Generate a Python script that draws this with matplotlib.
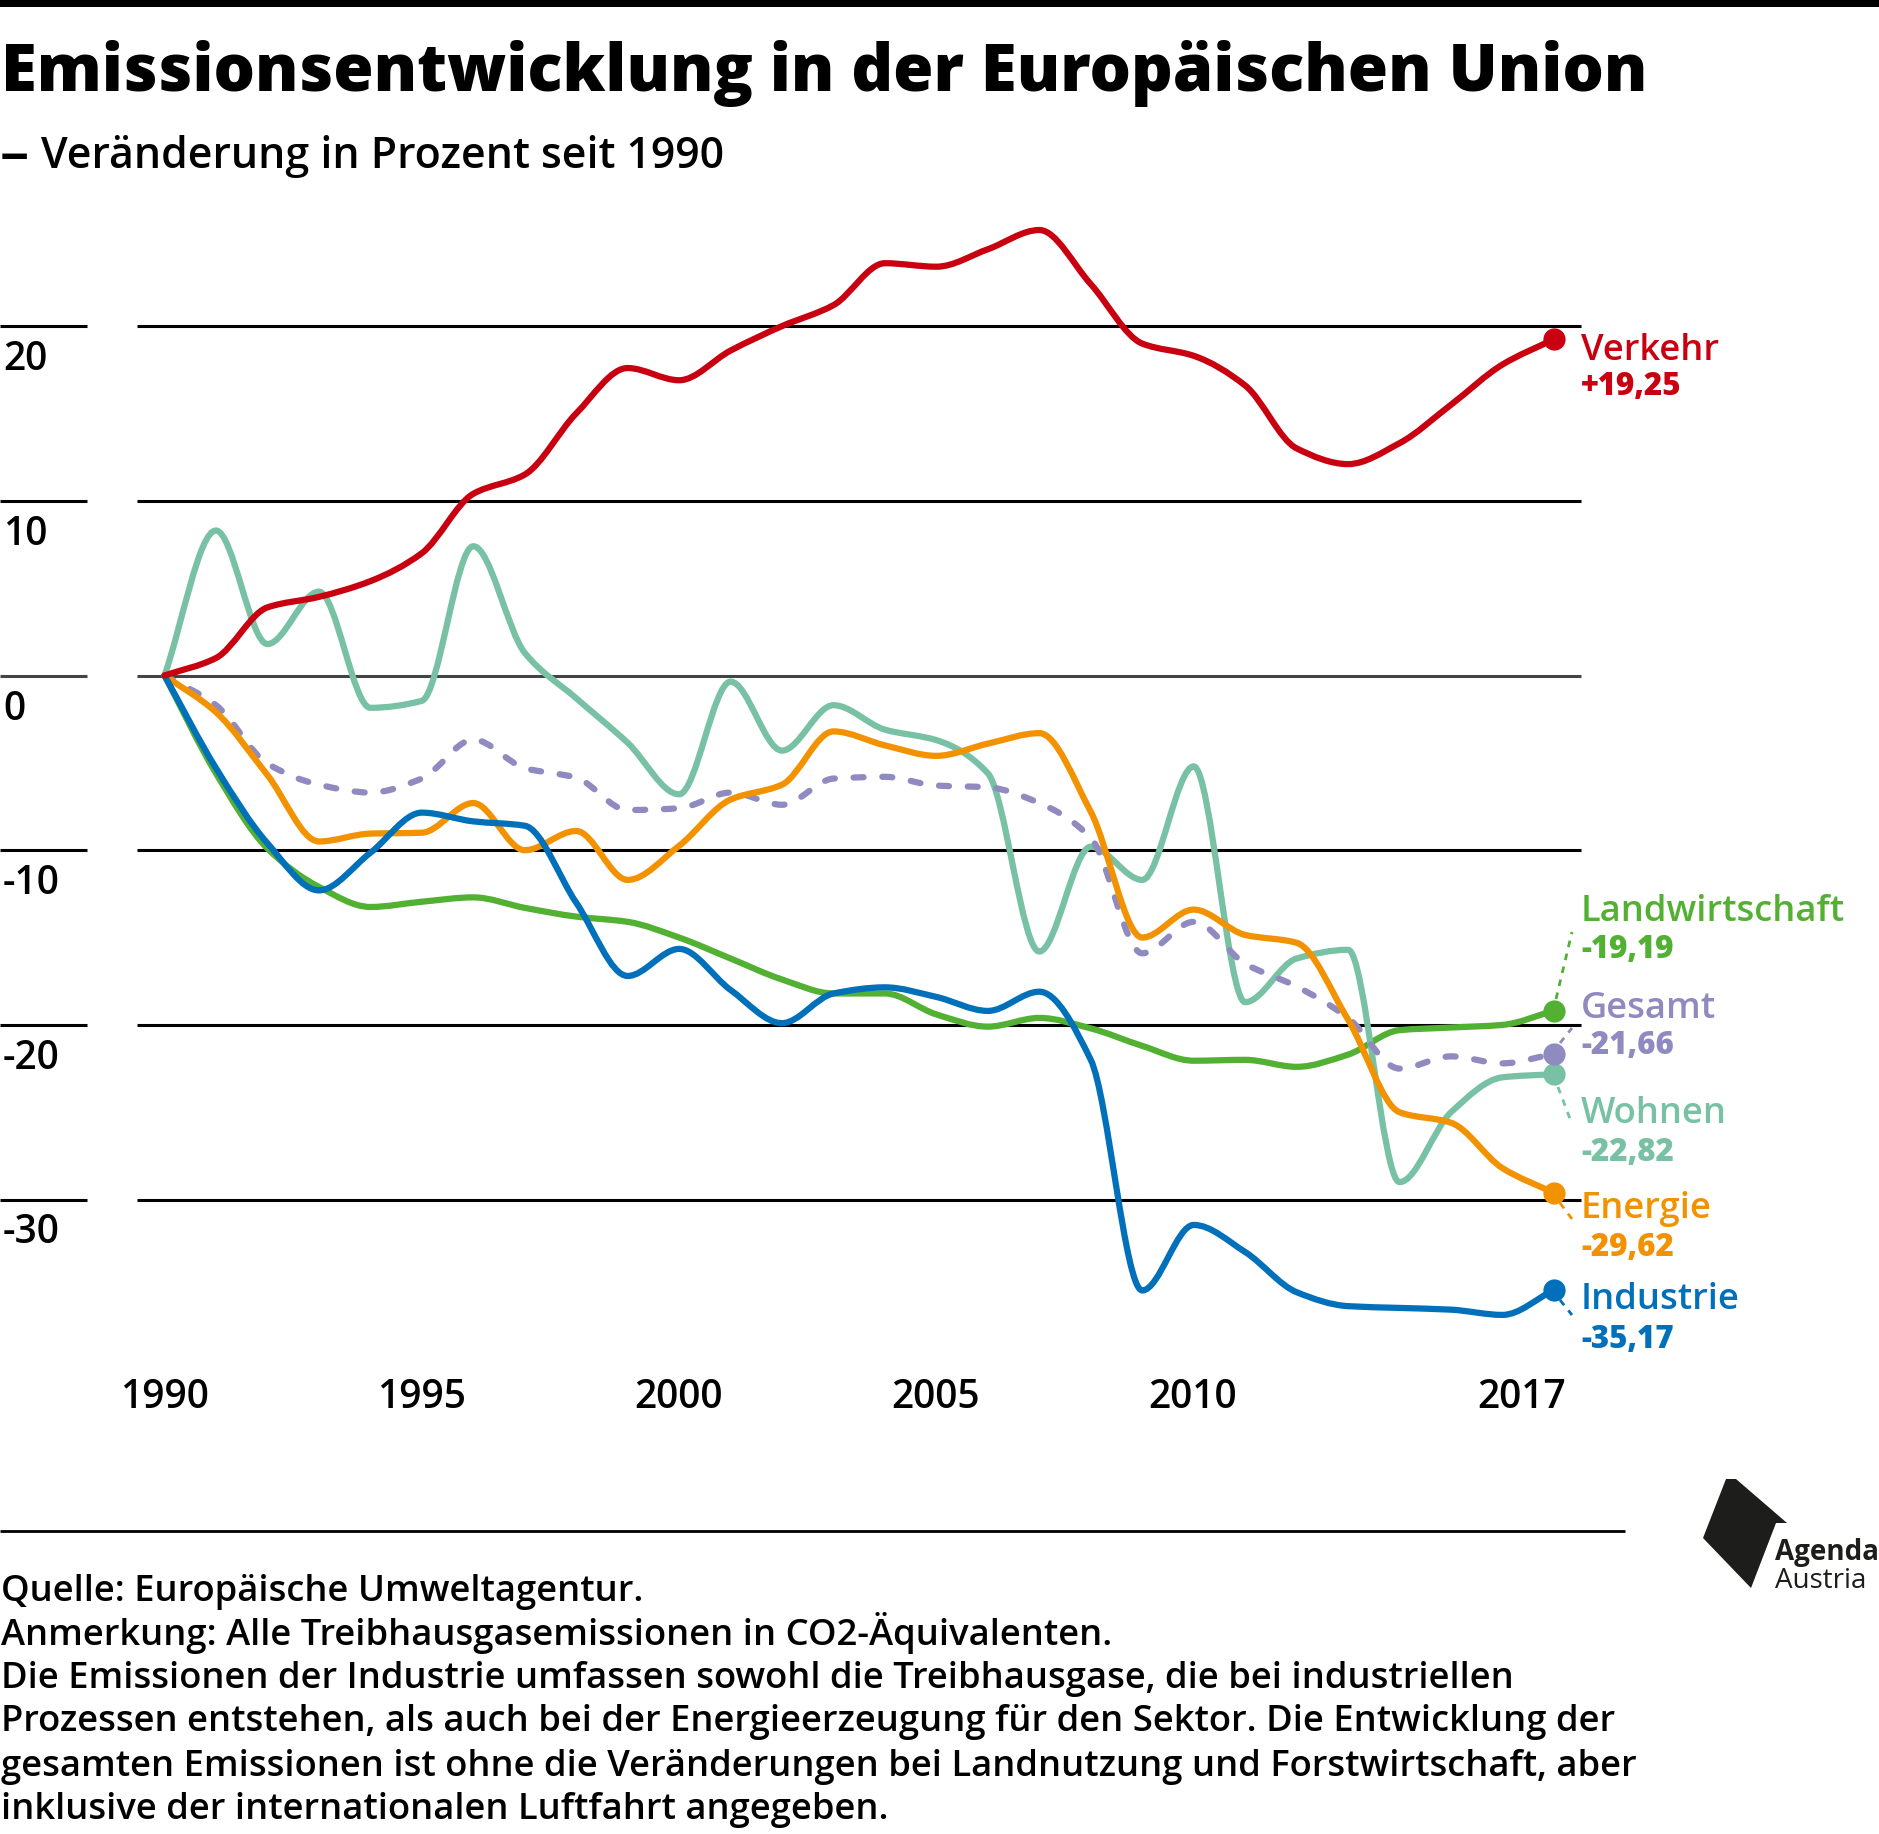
import numpy as np
import matplotlib
matplotlib.use("Agg")
import matplotlib.pyplot as plt
from matplotlib.path import Path
from matplotlib.patches import PathPatch, Polygon

plt.rcParams['font.family'] = ['Open Sans', 'DejaVu Sans']

years = list(range(1990, 2018))
verkehr = [0, 1.0, 3.9, 4.5, 5.4, 7.0, 10.4, 11.5, 15.0, 17.6, 16.9, 18.6, 20.0, 21.2,
           23.6, 23.4, 24.4, 25.5, 22.4, 19.0, 18.3, 16.6, 13.0, 12.1, 13.3, 15.5, 17.8, 19.25]
landwirtschaft = [0, -5.6, -9.9, -12.1, -13.25, -12.95, -12.7, -13.3, -13.8, -14.1, -15.0, -16.2,
                  -17.4, -18.2, -18.2, -19.4, -20.1, -19.6, -20.2, -21.2, -22.05, -22.0, -22.4,
                  -21.7, -20.3, -20.15, -20.0, -19.19]
wohnen = [0, 8.3, 1.8, 4.8, -1.85, -1.45, 7.4, 1.3, -1.3, -3.85, -6.8, -0.35, -4.3, -1.7, -3.1,
          -3.7, -5.6, -15.8, -9.8, -11.7, -5.2, -18.7, -16.2, -15.7, -29.0, -25.0, -23.0, -22.82]
gesamt = [0, -1.7, -5.04, -6.25, -6.7, -5.9, -3.67, -5.3, -5.85, -7.7, -7.6, -6.7, -7.4, -5.9,
          -5.8, -6.3, -6.4, -7.3, -9.3, -15.9, -14.1, -16.5, -17.8, -19.6, -22.5, -21.8, -22.2, -21.66]
energie = [0, -2.1, -5.7, -9.5, -9.05, -9.0, -7.3, -10.0, -8.9, -11.7, -9.75, -7.1, -6.25, -3.2,
           -4.0, -4.6, -3.9, -3.3, -7.8, -15.0, -13.4, -14.85, -15.3, -19.7, -25.0, -25.6, -28.2, -29.62]
industrie = [0, -5.3, -9.6, -12.3, -10.15, -7.85, -8.35, -8.6, -13.0, -17.2, -15.65, -18.0, -19.9,
             -18.2, -17.85, -18.4, -19.2, -18.1, -22.0, -35.2, -31.45, -33.0, -35.3, -36.1, -36.2,
             -36.3, -36.6, -35.17]

y_ticks = [20, 10, 0, -10, -20, -30]
y_ticklabels = ["20", "10", "0", "-10", "-20", "-30"]
x_ticklabels = ["1990", "1995", "2000", "2005", "2010", "2017"]
series_names = ["Landwirtschaft", "Gesamt", "Wohnen", "Energie", "Industrie", "Verkehr"]
series_values = ["-19,19", "-21,66", "-22,82", "-29,62", "-35,17", "+19,25"]

RED, GREEN, PURPLE, TEAL, ORANGE, BLUE = "#C8000F", "#52B032", "#8F8ABF", "#78C1A5", "#F39200", "#0070BA"
INK = "#000000"

W, H = 1879, 1834
PX_YEAR, PX_UNIT = 51.46, 17.47
X0, Y0 = 164.5, 675.5

fig = plt.figure(figsize=(W / 100, H / 100), dpi=100, facecolor="white")
ax = fig.add_axes([0, 0, 1, 1])
ax.set_xlim(1990 - X0 / PX_YEAR, 1990 + (W - X0) / PX_YEAR)
ax.set_ylim((Y0 - H) / PX_UNIT, Y0 / PX_UNIT)
ax.axis("off")

ov = fig.add_axes([0, 0, 1, 1], zorder=5)
ov.set_xlim(0, W)
ov.set_ylim(H, 0)
ov.axis("off")
ov.patch.set_alpha(0)


def monotone_path(xs, ys):
    """Monotone cubic Bezier path through the yearly values."""
    xs, ys = np.asarray(xs, float), np.asarray(ys, float)
    h = np.diff(xs)
    d = np.diff(ys) / h
    m = np.zeros_like(ys)
    m[0], m[-1] = d[0], d[-1]
    for i in range(1, len(ys) - 1):
        if d[i - 1] * d[i] > 0:
            m[i] = 2 * d[i - 1] * d[i] / (d[i - 1] + d[i])
    verts, codes = [(xs[0], ys[0])], [Path.MOVETO]
    for i in range(len(h)):
        verts += [(xs[i] + h[i] / 3, ys[i] + m[i] * h[i] / 3),
                  (xs[i + 1] - h[i] / 3, ys[i + 1] - m[i + 1] * h[i] / 3),
                  (xs[i + 1], ys[i + 1])]
        codes += [Path.CURVE4] * 3
    return Path(verts, codes)


def draw(vals, color, z, dashed=False):
    kw = dict(linestyle=(0, (1.6, 3.0)), capstyle="round") if dashed else dict(capstyle="round")
    ax.add_patch(PathPatch(monotone_path(years, vals), fill=False, edgecolor=color, linewidth=4.5,
                           joinstyle="round", zorder=z, **kw))
    ax.plot([years[-1]], [vals[-1]], "o", color=color, ms=16, mew=0, zorder=z + 0.1)


# gridlines
for t in y_ticks:
    c = "#444444" if t == 0 else INK
    ax.hlines(t, 1990 + (0 - X0) / PX_YEAR, 1990 + (87 - X0) / PX_YEAR, color=c, lw=2.2, zorder=1)
    ax.hlines(t, 1990 + (137 - X0) / PX_YEAR, 1990 + (1581 - X0) / PX_YEAR, color=c, lw=2.2, zorder=1)

draw(landwirtschaft, GREEN, 2)
draw(wohnen, TEAL, 3)
draw(gesamt, PURPLE, 4, dashed=True)
draw(energie, ORANGE, 5)
draw(industrie, BLUE, 6)
draw(verkehr, RED, 7)

# leader lines
leaders = [(GREEN, 1556, 999, 932), (PURPLE, 1560, 1043, 1028), (TEAL, 1558, 1087, 1124),
           (ORANGE, 1560, 1203, 1219), (BLUE, 1560, 1300, 1315)]
for col, x0, y0, y1 in leaders:
    ov.plot([x0, 1572], [y0, y1], color=col, lw=2.0, linestyle=(0, (2.4, 2.4)), zorder=1)

# top rule, title, subtitle
ov.fill_between([0, W], 0, 7, color=INK, lw=0)
ov.text(1, 91, "Emissionsentwicklung in der Europäischen Union", fontsize=46.9, fontweight="extra bold",
        color=INK, va="baseline", ha="left")
ov.text(0, 172, "–", fontsize=42, fontweight="semibold", color=INK, va="baseline", ha="left")
ov.text(41, 168, "Veränderung in Prozent seit 1990", fontsize=30.9, fontweight="semibold",
        color=INK, va="baseline", ha="left")

# axis labels
for lab, yy in zip(y_ticklabels, [370, 545, 720, 894, 1069, 1243]):
    ov.text(3, yy, lab, fontsize=28, fontweight="semibold", color=INK, va="baseline", ha="left")
for lab, xx in zip(x_ticklabels, [164, 422, 679, 936, 1193, 1522]):
    ov.text(xx, 1408, lab, fontsize=28, fontweight="semibold", color=INK, va="baseline", ha="center")

# series labels
label_y = [(921, 958), (1018, 1054), (1123, 1161), (1218, 1256), (1309, 1348), (360, 395)]
cols = [GREEN, PURPLE, TEAL, ORANGE, BLUE, RED]
for nm, val, (y1, y2), c in zip(series_names, series_values, label_y, cols):
    ov.text(1581, y1, nm, fontsize=26.2, fontweight="semibold", color=c, va="baseline", ha="left")
    ov.text(1581, y2, val, fontsize=22.5, fontweight="extra bold", color=c, va="baseline", ha="left")

# footer
ov.plot([0, 1625], [1531, 1531], color=INK, lw=2.0, solid_capstyle="butt")
footer = ["Quelle: Europäische Umweltagentur.",
          "Anmerkung: Alle Treibhausgasemissionen in CO2-Äquivalenten.",
          "Die Emissionen der Industrie umfassen sowohl die Treibhausgase, die bei industriellen",
          "Prozessen entstehen, als auch bei der Energieerzeugung für den Sektor. Die Entwicklung der",
          "gesamten Emissionen ist ohne die Veränderungen bei Landnutzung und Forstwirtschaft, aber",
          "inklusive der internationalen Luftfahrt angegeben."]
for line, yy in zip(footer, [1601, 1645, 1688, 1731, 1776, 1819]):
    ov.text(1, yy, line, fontsize=26.2, fontweight="semibold", color=INK, va="baseline", ha="left")

# logo
ov.add_patch(Polygon([(1726, 1479), (1736, 1479), (1787, 1523), (1776, 1523), (1751, 1588), (1703, 1538)],
                     closed=True, facecolor="#1D1D1B", edgecolor="none"))
ov.text(1775, 1560, "Agenda", fontsize=20, fontweight="bold", color="#1D1D1B", va="baseline", ha="left")
ov.text(1775, 1588, "Austria", fontsize=20, fontweight="normal", color="#1D1D1B", va="baseline", ha="left")

fig.savefig("out.png", dpi=100, facecolor="white")
